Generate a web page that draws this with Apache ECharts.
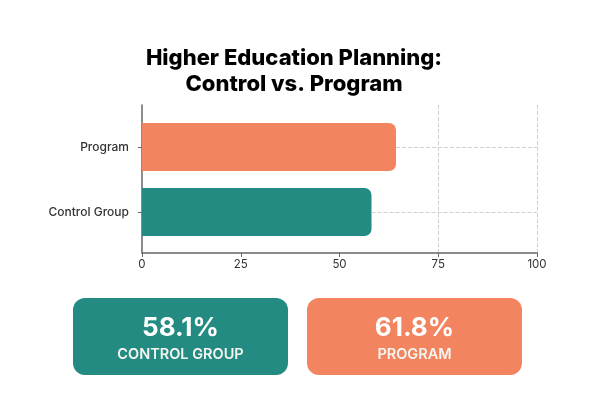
<!DOCTYPE html>
<html>
<head>
<meta charset="utf-8">
<script src="https://cdn.jsdelivr.net/npm/echarts@6/dist/echarts.min.js"></script>
<style>html,body{margin:0;padding:0;background:#fff;}#c{width:596px;height:413px;}</style>
</head>
<body>
<div id="c"></div>
<script>
var titleLines = ['Higher Education Planning:', 'Control vs. Program'];
var categories = ['Control Group', 'Program'];
var barValues = [58.1, 64.3];
var barColors = ['#238B82', '#F38460'];
var xTicks = [0, 25, 50, 75, 100];
var cardValues = ['58.1%', '61.8%'];
var cardLabels = ['CONTROL GROUP', 'PROGRAM'];

var FONT = 'Inter, "Open Sans", sans-serif';
var chart = echarts.init(document.getElementById('c'));

var cards = [];
var cardX = [73, 307];
for (var i = 0; i < cardValues.length; i++) {
  cards.push({
    type: 'group', left: cardX[i], top: 298,
    children: [
      { type: 'rect', shape: { x: 0, y: 0, width: 215, height: 77, r: 12 }, style: { fill: barColors[i] } },
      { type: 'text', x: 107.5, y: 30, style: { text: cardValues[i], fill: '#fff', font: 'bold 26px ' + FONT, align: 'center', verticalAlign: 'middle' } },
      { type: 'text', x: 107.5, y: 57, style: { text: cardLabels[i], fill: '#f5f5ef', font: '600 14.5px ' + FONT, align: 'center', verticalAlign: 'middle' } }
    ]
  });
}

var splitColors = xTicks.map(function (t) { return t >= 75 ? '#d0d0d0' : 'rgba(0,0,0,0)'; });

chart.setOption({
  backgroundColor: '#fff',
  animation: false,
  title: {
    text: titleLines.join('\n'),
    left: 289, top: 40,
    textAlign: 'center',
    textStyle: { fontFamily: FONT, fontWeight: 800, fontSize: 22, lineHeight: 26, color: '#000' }
  },
  grid: [
    { left: 142, right: 59, top: 105, bottom: 160 },
    { left: 142, right: 59, top: 114.5, bottom: 168.5 }
  ],
  xAxis: [
    {
      gridIndex: 0, type: 'value', min: 0, max: 100, interval: 25,
      axisLine: { show: true, lineStyle: { color: '#666', width: 1.5 } },
      axisTick: { show: true, length: 4, lineStyle: { color: '#666' } },
      axisLabel: { color: '#333', fontSize: 11.5, fontFamily: FONT, margin: 6 },
      splitLine: { show: true, lineStyle: { type: 'dashed', color: splitColors } }
    },
    {
      gridIndex: 1, type: 'value', min: 0, max: 100, show: false,
      splitLine: { show: false }
    }
  ],
  yAxis: [
    {
      gridIndex: 0, type: 'value', min: 0, max: 1,
      axisLine: { show: true, lineStyle: { color: '#666', width: 1.5 } },
      axisTick: { show: false }, axisLabel: { show: false }, splitLine: { show: false }
    },
    {
      gridIndex: 1, type: 'category', data: categories,
      axisLine: { show: false },
      axisTick: { show: true, alignWithLabel: true, length: 4, lineStyle: { color: '#666' } },
      axisLabel: { color: '#333', fontSize: 12, fontFamily: FONT, fontWeight: 500, margin: 13 }
    }
  ],
  series: [{
    type: 'bar', xAxisIndex: 1, yAxisIndex: 1,
    barWidth: 48,
    data: barValues.map(function (v, i) {
      return { value: v, itemStyle: { color: barColors[i], borderRadius: [0, 7, 7, 0] } };
    }),
    markLine: {
      silent: true, symbol: 'none', label: { show: false },
      lineStyle: { type: 'dashed', color: '#d0d0d0', width: 1 },
      data: categories.map(function (c, i) {
        return [{ coord: [barValues[i], c] }, { coord: [100, c] }];
      })
    }
  }],
  graphic: cards
});
</script>
</body>
</html>
